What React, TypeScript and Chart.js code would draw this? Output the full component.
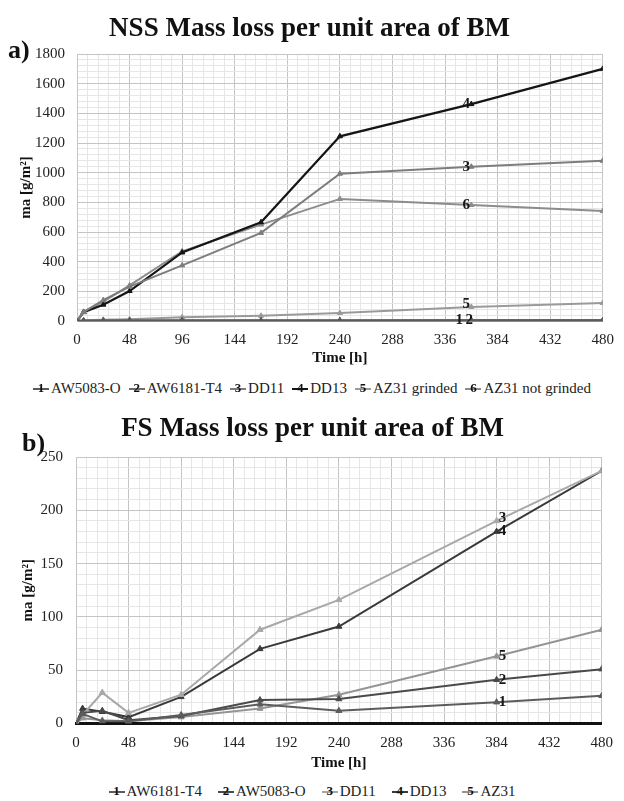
import React, { useEffect, useRef } from "react";
import { Chart, registerables } from "chart.js";

Chart.register(...registerables);

const FONT = '"Liberation Serif", "Times New Roman", serif';

// ---- Chart a) NSS ----
const nssTimes = [0, 6, 24, 48, 96, 168, 240, 360, 480];
const nssAW5083O = [0, 2, 3, 3, 4, 4, 4, 4, 4];
const nssAW6181T4 = [0, 3, 4, 4, 5, 5, 5, 6, 6];
const nssDD11 = [0, 60, 140, 232, 375, 594, 993, 1040, 1080];
const nssDD13 = [0, 60, 110, 202, 462, 666, 1245, 1462, 1700];
const nssAZ31Grinded = [0, 5, 8, 12, 25, 35, 54, 95, 122];
const nssAZ31NotGrinded = [0, 62, 130, 240, 470, 650, 823, 782, 741];
const nssNames = ["AW5083-O", "AW6181-T4", "DD11", "DD13", "AZ31 grinded", "AZ31 not grinded"];
const nssNumbers = ["1", "2", "3", "4", "5", "6"];
const nssColors = ["#5a5a5a", "#6e6e6e", "#7d7d7d", "#151515", "#9a9a9a", "#8c8c8c"];

// ---- Chart b) FS ----
const fsTimes = [0, 6, 24, 48, 96, 168, 240, 384, 480];
const fsAW6181T4 = [0, 9, 2, 2, 8, 18, 12, 20, 26];
const fsAW5083O = [0, 10, 12, 3, 7, 22, 23, 41, 51];
const fsDD11 = [2, 8, 29, 10, 27, 88, 116, 190, 237];
const fsDD13 = [0, 14, 11, 6, 25, 70, 91, 180, 237];
const fsAZ31 = [0, 5, 3, 2, 6, 14, 27, 63, 88];
const fsNames = ["AW6181-T4", "AW5083-O", "DD11", "DD13", "AZ31"];
const fsNumbers = ["1", "2", "3", "4", "5"];
const fsColors = ["#5c5c5c", "#4a4a4a", "#a8a8a8", "#3a3a3a", "#959595"];

const xMax = 480;
const xMajor = 48;
const xMinor = 9.6;

const isMajor = (v: number, step: number) => Math.abs(v / step - Math.round(v / step)) < 1e-6;

const numberLabelPlugin = {
  id: "numLabels",
  afterDatasetsDraw(chart: any, _args: any, opts: any) {
    const { ctx } = chart;
    ctx.save();
    ctx.font = `bold 15px ${FONT}`;
    ctx.fillStyle = "#161616";
    ctx.textAlign = "center";
    ctx.textBaseline = "middle";
    for (const it of opts.items || []) {
      const el = chart.getDatasetMeta(it.ds).data[opts.index];
      if (el) ctx.fillText(it.text, el.x + it.dx, el.y + it.dy);
    }
    ctx.restore();
  },
};

function buildConfig(p: any) {
  const datasets = p.series.map((s: any) => ({
    label: s.name,
    data: p.times.map((t: number, i: number) => ({ x: t, y: s.values[i] })),
    borderColor: s.color,
    backgroundColor: s.color,
    borderWidth: s.width ?? 2,
    pointStyle: "triangle",
    pointRadius: p.pointRadius,
    pointBorderWidth: 1,
    tension: 0,
  }));
  return {
    type: "line",
    data: { datasets },
    plugins: [numberLabelPlugin],
    options: {
      responsive: false,
      animation: false,
      devicePixelRatio: 1,
      layout: { padding: { left: p.padLeft, right: p.padRight, top: 0, bottom: 0 } },
      plugins: {
        legend: { display: false },
        tooltip: { enabled: false },
        title: {
          display: true,
          text: p.title,
          color: "#111",
          font: { family: FONT, size: 27, weight: "bold", lineHeight: 1.2 },
          padding: p.titlePad,
        },
        numLabels: { items: p.labels, index: p.labelIndex },
      },
      scales: {
        x: {
          type: "linear",
          min: 0,
          max: xMax,
          afterFit: (s: any) => {
            s.height = p.xHeight;
          },
          ticks: {
            stepSize: xMinor,
            autoSkip: false,
            maxRotation: 0,
            padding: p.xTickPad,
            color: "#222",
            font: { family: FONT, size: 15, lineHeight: 1.2 },
            callback: (v: any) => (isMajor(Number(v), xMajor) ? String(Math.round(Number(v))) : ""),
          },
          grid: {
            drawTicks: false,
            lineWidth: 1,
            color: (c: any) => (c.tick && isMajor(c.tick.value, xMajor) ? "#c4c4c4" : "#e6e6e6"),
          },
          border: { display: true, color: p.xBorder.color, width: p.xBorder.width },
          title: {
            display: true,
            text: "Time [h]",
            color: "#111",
            font: { family: FONT, size: 15, weight: "bold", lineHeight: 1.2 },
            padding: p.xTitlePad,
          },
        },
        y: {
          type: "linear",
          min: 0,
          max: p.yMax,
          afterFit: (s: any) => {
            s.width = p.yWidth;
          },
          ticks: {
            stepSize: p.yMinor,
            autoSkip: false,
            padding: p.yTickPad,
            color: "#222",
            font: { family: FONT, size: 15, lineHeight: 1.2 },
            callback: (v: any) => (isMajor(Number(v), p.yMajor) ? String(Math.round(Number(v))) : ""),
          },
          grid: {
            drawTicks: false,
            lineWidth: 1,
            color: (c: any) => (c.tick && isMajor(c.tick.value, p.yMajor) ? "#c4c4c4" : "#e6e6e6"),
          },
          border: { display: true, color: "#c4c4c4", width: 1 },
          title: {
            display: true,
            text: "ma [g/m²]",
            color: "#111",
            font: { family: FONT, size: 15, weight: "bold", lineHeight: 1.2 },
            padding: { top: p.yTitlePad, bottom: 0 },
          },
        },
      },
    },
  };
}

const nssSeries = [nssAW5083O, nssAW6181T4, nssDD11, nssDD13, nssAZ31Grinded, nssAZ31NotGrinded].map((v, i) => ({
  name: nssNames[i],
  num: nssNumbers[i],
  values: v,
  color: nssColors[i],
  width: i === 3 ? 2.2 : 2,
}));

const fsSeries = [fsAW6181T4, fsAW5083O, fsDD11, fsDD13, fsAZ31].map((v, i) => ({
  name: fsNames[i],
  num: fsNumbers[i],
  values: v,
  color: fsColors[i],
  width: 2,
}));

const cfgA = buildConfig({
  title: "NSS Mass loss per unit area of BM",
  titlePad: { top: 13, bottom: 8.6 },
  times: nssTimes,
  series: nssSeries,
  yMax: 1800,
  yMinor: 40,
  yMajor: 200,
  padLeft: 8,
  padRight: 13,
  yWidth: 69,
  yTitlePad: 9,
  yTickPad: 12,
  xTickPad: 10,
  xHeight: 51,
  xTitlePad: { top: 0, bottom: 5 },
  xBorder: { color: "#8a8a8a", width: 1 },
  pointRadius: 3,
  labelIndex: 7,
  labels: [
    { ds: 0, text: "1", dx: -12, dy: 0 },
    { ds: 1, text: "2", dx: -2, dy: 0 },
    { ds: 2, text: "3", dx: -5, dy: 0 },
    { ds: 3, text: "4", dx: -5, dy: 0 },
    { ds: 4, text: "5", dx: -5, dy: -3 },
    { ds: 5, text: "6", dx: -5, dy: 0 },
  ],
});

const cfgB = buildConfig({
  title: "FS Mass loss per unit area of BM",
  titlePad: { top: 13, bottom: 11.6 },
  times: fsTimes,
  series: fsSeries,
  yMax: 250,
  yMinor: 10,
  yMajor: 50,
  padLeft: 16,
  padRight: 15,
  yWidth: 60,
  yTitlePad: 3,
  yTickPad: 13,
  xTickPad: 11,
  xHeight: 53.5,
  xTitlePad: { top: 1.5, bottom: 5 },
  xBorder: { color: "#111", width: 3 },
  pointRadius: 3.5,
  labelIndex: 7,
  labels: [
    { ds: 0, text: "1", dx: 6, dy: 0 },
    { ds: 1, text: "2", dx: 6, dy: 0 },
    { ds: 2, text: "3", dx: 6, dy: -3 },
    { ds: 3, text: "4", dx: 6, dy: 0 },
    { ds: 4, text: "5", dx: 6, dy: 0 },
  ],
});

function Legend({ top, items, gap }: { top: number; items: any[]; gap: number }) {
  return (
    <div
      style={{
        position: "absolute",
        left: 0,
        width: 624,
        top,
        textAlign: "center",
        font: `15px ${FONT}`,
        color: "#222",
        whiteSpace: "nowrap",
        lineHeight: "18px",
      }}
    >
      {items.map((it, i) => (
        <span key={i} style={{ marginLeft: i ? gap : 0, display: "inline-block" }}>
          <span
            style={{
              position: "relative",
              display: "inline-block",
              width: 16,
              height: 18,
              verticalAlign: "top",
              marginRight: 2,
            }}
          >
            <span style={{ position: "absolute", left: 0, right: 0, top: 9, height: 2, background: it.color }} />
            <span
              style={{
                position: "absolute",
                left: 0,
                right: 0,
                top: 0,
                textAlign: "center",
                font: `bold 13px ${FONT}`,
                lineHeight: "18px",
                color: "#111",
              }}
            >
              {it.num}
            </span>
          </span>
          {it.name}
        </span>
      ))}
    </div>
  );
}

export default function App() {
  const refA = useRef<HTMLCanvasElement>(null);
  const refB = useRef<HTMLCanvasElement>(null);
  useEffect(() => {
    const a = new Chart(refA.current as HTMLCanvasElement, cfgA as any);
    const b = new Chart(refB.current as HTMLCanvasElement, cfgB as any);
    return () => {
      a.destroy();
      b.destroy();
    };
  }, []);
  return (
    <div style={{ position: "absolute", left: 0, top: 0, width: 624, height: 801, background: "#fff", overflow: "hidden" }}>
      <canvas ref={refA} width={624} height={372} style={{ position: "absolute", left: 0, top: 0 }} />
      <canvas ref={refB} width={624} height={377} style={{ position: "absolute", left: 0, top: 400 }} />
      <div style={{ position: "absolute", left: 8, top: 36, font: `bold 26px ${FONT}`, lineHeight: "28px", color: "#111" }}>a)</div>
      <div style={{ position: "absolute", left: 22, top: 429, font: `bold 26px ${FONT}`, lineHeight: "28px", color: "#111" }}>b)</div>
      <Legend top={379} gap={8} items={nssSeries} />
      <Legend top={782} gap={16} items={fsSeries} />
    </div>
  );
}
